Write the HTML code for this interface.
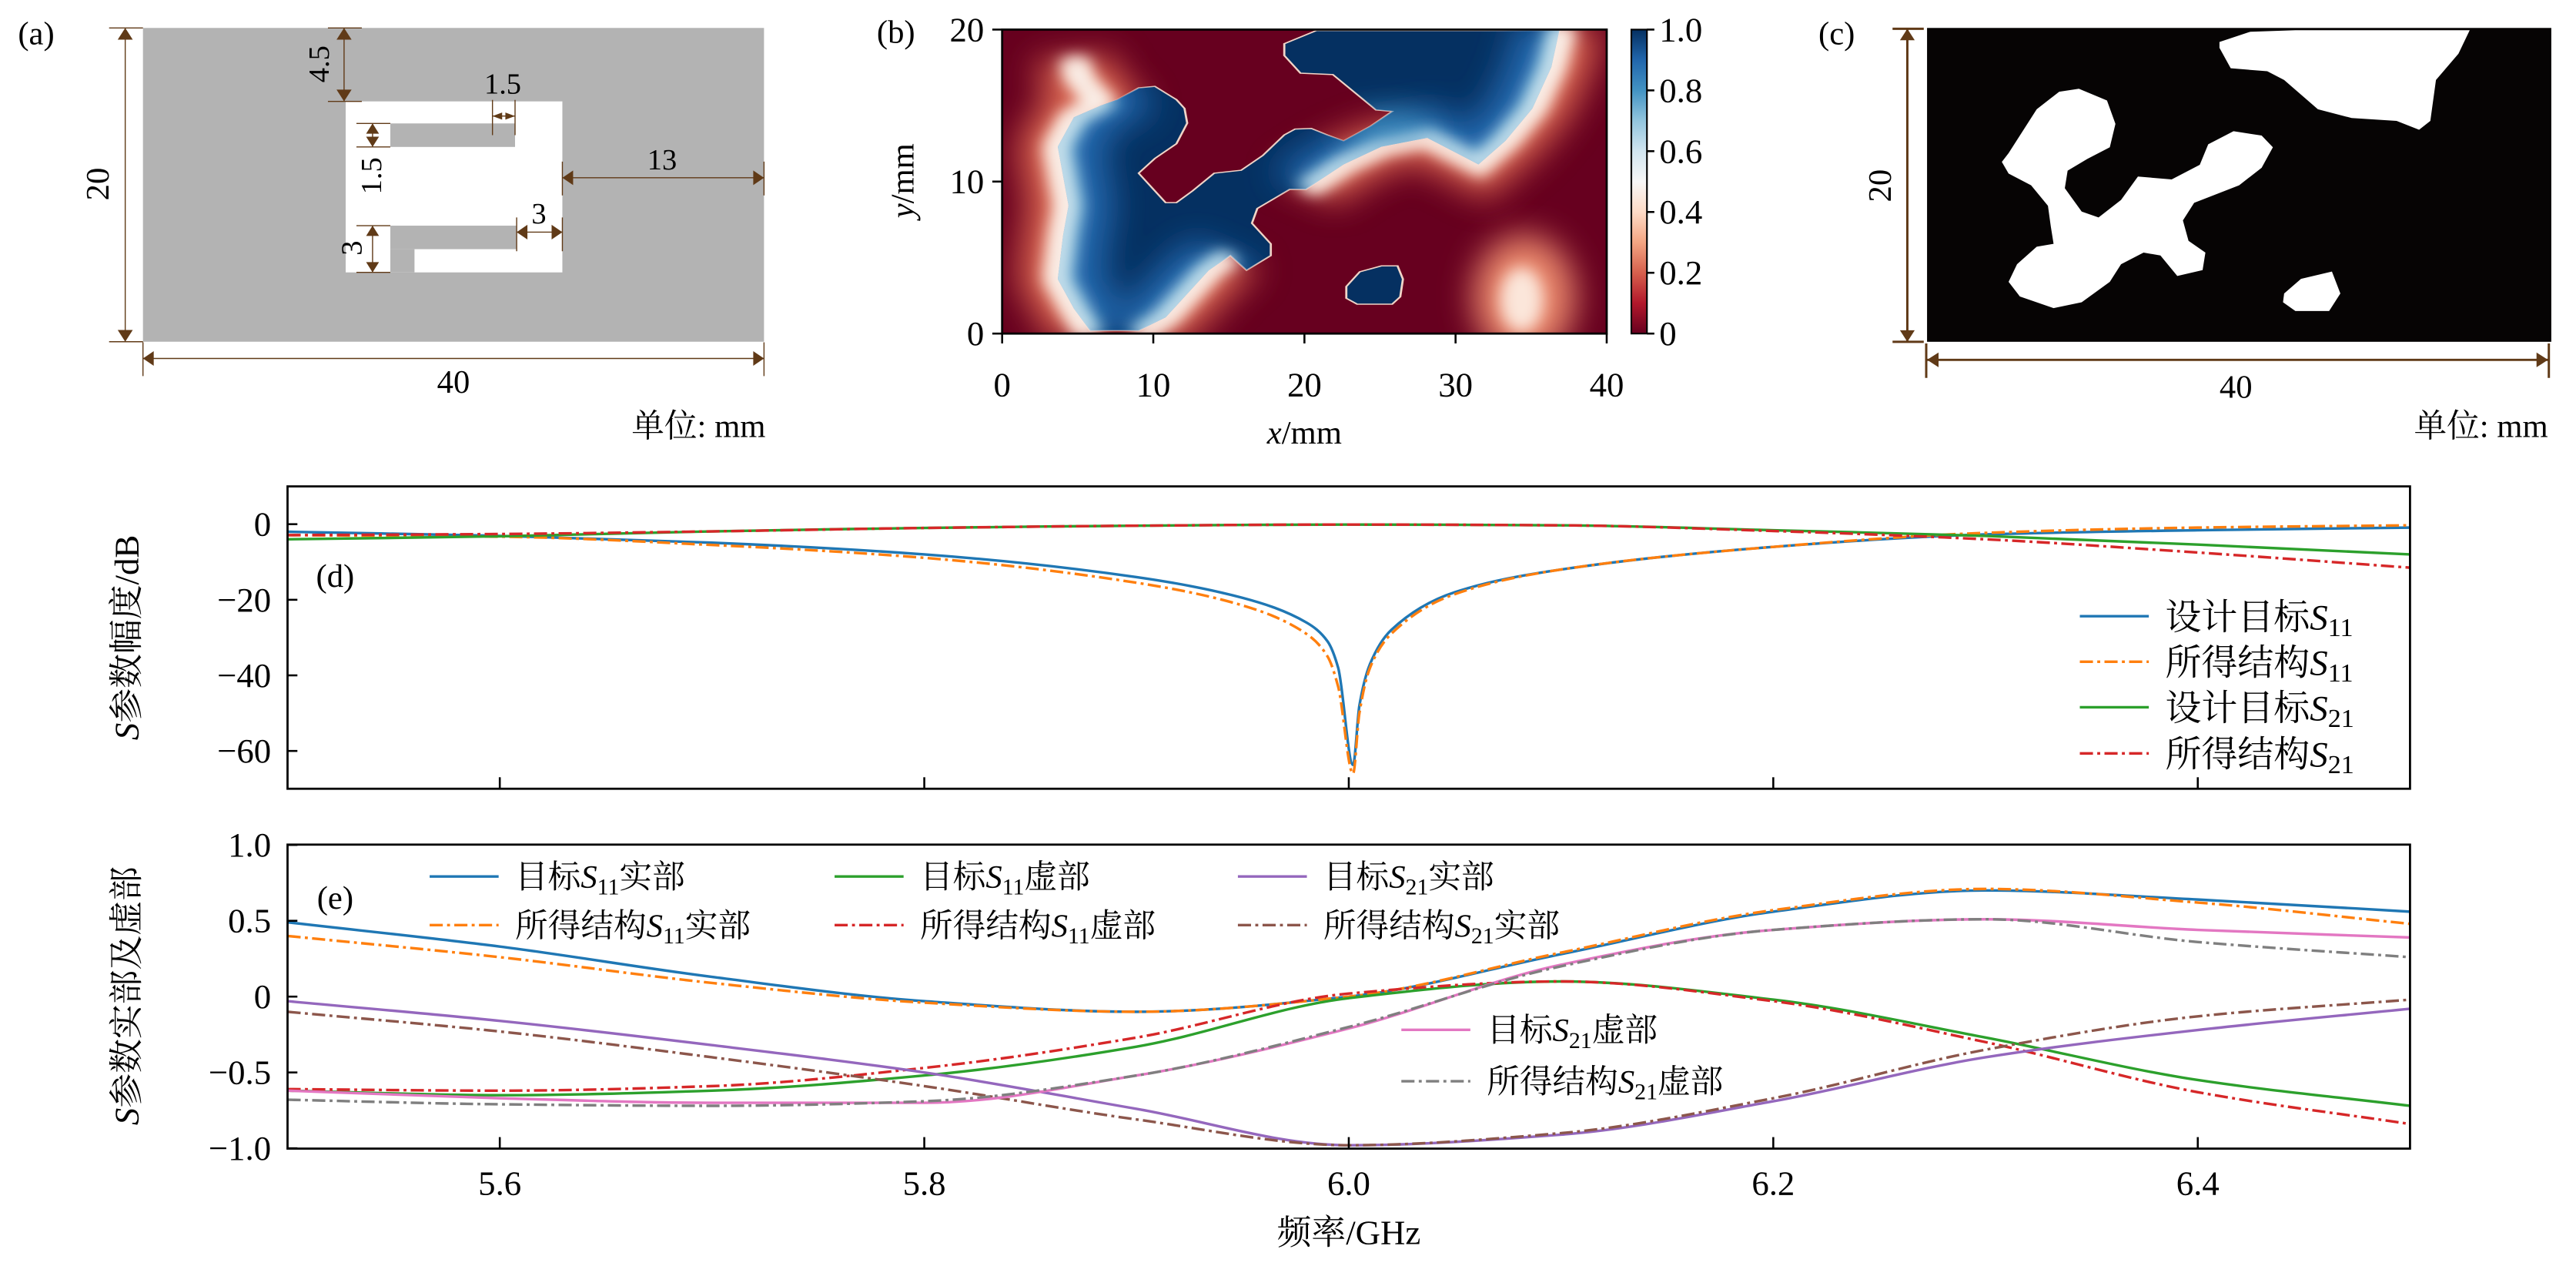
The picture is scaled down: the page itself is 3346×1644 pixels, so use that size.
<!DOCTYPE html>
<html><head><meta charset="utf-8"><style>
html,body{margin:0;padding:0;background:#fff;}
svg{display:block;font-family:"Liberation Serif","Noto Serif CJK SC",serif;}
</style></head><body>
<svg id="fig" width="3346" height="1644" viewBox="0 0 1568 770.44" xmlns="http://www.w3.org/2000/svg">
<defs>
<linearGradient id="rdbu" x1="0" y1="1" x2="0" y2="0">
<stop offset="0" stop-color="#67001f"/><stop offset="0.1" stop-color="#b2182b"/><stop offset="0.2" stop-color="#d6604d"/><stop offset="0.3" stop-color="#f4a582"/><stop offset="0.4" stop-color="#fddbc7"/><stop offset="0.5" stop-color="#f7f7f7"/><stop offset="0.6" stop-color="#d1e5f0"/><stop offset="0.7" stop-color="#92c5de"/><stop offset="0.8" stop-color="#4393c3"/><stop offset="0.9" stop-color="#2166ac"/><stop offset="1" stop-color="#053061"/>
</linearGradient>
<clipPath id="hmclip"><rect x="610" y="18" width="368" height="185"/></clipPath>
<filter id="blurA" filterUnits="userSpaceOnUse" x="-200" y="-200" width="2000" height="1600"><feGaussianBlur stdDeviation="30 55"/></filter>
<filter id="blurB" filterUnits="userSpaceOnUse" x="-200" y="-200" width="2000" height="1600"><feGaussianBlur stdDeviation="14 26"/></filter>
<path id="blueB" d="M380,1125 L470,1125 L520,1080 L600,920 L640,870 L670,920 L715,870 L715,830 L680,760 L690,710 L750,645 L780,645 L850,560 L920,500 L1005,470 L1100,560 L1150,480 L1200,370 L1235,230 L1250,105 L800,105 L740,150 L740,190 L770,250 L830,255 L860,300 L910,375 L940,380 L900,430 L850,480 L820,460 L790,438 L760,440 L740,460 L700,530 L660,580 L610,590 L570,650 L540,690 L520,690 L470,590 L500,540 L540,490 L560,420 L555,370 L540,340 L500,295 L470,300 L430,340 L400,360 L350,400 L320,500 L330,600 L340,700 L330,800 L320,950 L350,1050 Z"/>
<path id="softS" fill="none" d="M350,200 L360,270 L400,350 L350,400 L320,500 L330,600 L340,700 L330,800 L320,950 L350,1050 L380,1140 M470,1140 L520,1080 L600,920 L640,870 M780,645 L850,560 L920,500 L1005,470 L1100,560 L1150,480 L1200,370 L1235,230 L1255,90"/>
<clipPath id="inB"><use href="#blueB"/></clipPath>
<mask id="outB" maskUnits="userSpaceOnUse" x="0" y="0" width="1600" height="1300"><rect x="0" y="0" width="1600" height="1300" fill="#fff"/><use href="#blueB" fill="#000"/></mask>
</defs>

<!-- ============ PANEL (a) ============ -->
<g>
<text x="22" y="27" font-size="20" text-anchor="middle">(a)</text>
<g transform="translate(0.92,0.014) scale(0.3273,0.1788)">
<rect x="263" y="95" width="1155" height="1068" fill="#b3b3b3"/>
<rect x="640" y="345" width="403" height="582" fill="#fff"/>
<rect x="723" y="420" width="232" height="80" fill="#b3b3b3"/>
<rect x="723" y="768" width="235" height="80" fill="#b3b3b3"/>
<rect x="723" y="848" width="45" height="79" fill="#b3b3b3"/>
<g stroke="#603a17" stroke-width="1.4" fill="none">
<path vector-effect="non-scaling-stroke" d="M230,95 V1163 M200,95 H263 M200,1163 H263"/>
<path vector-effect="non-scaling-stroke" d="M637,95 V345 M607,95 H670 M607,345 H670"/>
<path vector-effect="non-scaling-stroke" d="M913,395 H955 M913,340 V460 M955,340 V460"/>
<path vector-effect="non-scaling-stroke" d="M690,420 V500 M660,420 H723 M660,500 H723"/>
<path vector-effect="non-scaling-stroke" d="M1043,605 H1418 M1043,550 V665 M1418,550 V665"/>
<path vector-effect="non-scaling-stroke" d="M958,790 H1043 M958,740 V855 M1043,740 V855"/>
<path vector-effect="non-scaling-stroke" d="M690,768 V927 M660,768 H723 M660,927 H723"/>
<path vector-effect="non-scaling-stroke" d="M263,1220 H1418 M263,1165 V1280 M1418,1165 V1280"/>
</g>
<g fill="#603a17">
<path d="M230,95 l-14,40 h28z M230,1163 l-14,-40 h28z M637,95 l-14,40 h28z M637,345 l-14,-40 h28z M690,420 l-12,35 h24z M690,500 l-12,-35 h24z M690,768 l-12,35 h24z M690,927 l-12,-35 h24z"/>
<path d="M913,395 l18,-12 v24z M955,395 l-18,-12 v24z M1043,605 l20,-25 v50z M1418,605 l-20,-25 v50z M958,790 l20,-25 v50z M1043,790 l-20,-25 v50z M263,1220 l20,-25 v50z M1418,1220 l-20,-25 v50z"/>
</g>
</g>
<g font-size="18" fill="#000">
<text transform="translate(66,112) rotate(-90)" text-anchor="middle" font-size="20">20</text>
<text transform="translate(200,39) rotate(-90)" text-anchor="middle">4.5</text>
<text x="306" y="57" text-anchor="middle">1.5</text>
<text transform="translate(232,107) rotate(-90)" text-anchor="middle">1.5</text>
<text x="403" y="103" text-anchor="middle">13</text>
<text x="328" y="136" text-anchor="middle">3</text>
<text transform="translate(220,151) rotate(-90)" text-anchor="middle">3</text>
<text x="276" y="239" text-anchor="middle" font-size="20">40</text>
<text x="466" y="266" text-anchor="end" font-size="20">单位: mm</text>
</g>
</g>

<!-- ============ PANEL (b) ============ -->
<g>
<text x="557" y="26" font-size="20" text-anchor="end">(b)</text>
<g clip-path="url(#hmclip)">
<rect x="610" y="18" width="368" height="185" fill="#67001f"/>
<g transform="translate(538.8,-0.27) scale(0.3283,0.1791)">
<g filter="url(#blurA)">
<ellipse cx="1185" cy="1010" rx="95" ry="210" fill="#e9866a"/>
</g>
<g filter="url(#blurB)">
<ellipse cx="1180" cy="1020" rx="40" ry="110" fill="#fbe6da"/>
</g>
<use href="#blueB" fill="#053061" stroke="#f2d5c8" stroke-width="4"/>
<g mask="url(#outB)">
<use href="#softS" stroke="#d6604d" stroke-width="150" filter="url(#blurA)"/>
<use href="#softS" stroke="#fbe3d6" stroke-width="60" filter="url(#blurB)"/>
</g>
<g clip-path="url(#inB)">
<use href="#softS" stroke="#2166ac" stroke-width="170" filter="url(#blurA)"/>
<use href="#softS" stroke="#92c5de" stroke-width="60" filter="url(#blurB)"/>
<ellipse cx="930" cy="440" rx="90" ry="50" fill="#4393c3" filter="url(#blurA)"/>
</g>
<use href="#softS" stroke="#f7f7f7" stroke-width="16" filter="url(#blurB)"/>
<path d="M855,975 L880,925 L920,905 L950,905 L960,950 L955,1010 L940,1035 L875,1035 L855,1015 Z" fill="#053061" stroke="#f2d5c8" stroke-width="4"/>
</g>
</g>
<rect x="610" y="18" width="368" height="185" fill="none" stroke="#000" stroke-width="1.3"/>
<g id="hmTicks" font-size="21"></g>
<rect x="993" y="18" width="9.5" height="185" fill="url(#rdbu)" stroke="#000" stroke-width="1"/>
<g id="cbTicks" font-size="21"></g>
<text x="794" y="270" text-anchor="middle" font-size="20"><tspan font-style="italic">x</tspan>/mm</text>
<text transform="translate(556,110) rotate(-90)" text-anchor="middle" font-size="20"><tspan font-style="italic">y</tspan>/mm</text>
</g>

<!-- ============ PANEL (c) ============ -->
<g>
<text x="1118" y="27" font-size="20" text-anchor="middle">(c)</text>
<rect x="1173" y="17" width="380" height="191" fill="#060404"/>
<g transform="translate(1030.95,0.62) scale(0.3423,0.178)" fill="#fff">
<path d="M935,140 L990,105 L1070,100 L1380,100 L1360,180 L1320,270 L1310,410 L1290,440 L1250,410 L1170,400 L1110,370 L1050,270 L1020,240 L955,230 L935,160 Z"/>
<path d="M560,520 L610,370 L650,310 L685,300 L735,340 L750,420 L740,500 L700,540 L665,580 L660,640 L690,720 L720,740 L760,680 L790,600 L850,610 L900,560 L915,490 L960,445 L1010,460 L1030,500 L1010,570 L970,630 L890,690 L870,750 L880,820 L910,860 L905,920 L860,940 L830,870 L800,860 L760,900 L740,960 L690,1030 L640,1050 L580,1010 L560,960 L575,900 L610,840 L640,830 L635,770 L630,700 L600,630 L560,590 L548,550 Z"/>
<path d="M1050,1000 L1080,950 L1135,925 L1150,1000 L1130,1060 L1070,1060 L1048,1030 Z"/>
</g>
<g stroke="#603a17" stroke-width="1.4" fill="none">
<path d="M1161,17.5 V208 M1152,17.5 H1171 M1152,208 H1171 M1173,219 H1551 M1172.5,209 V230 M1551.5,209 V230"/>
</g>
<g fill="#603a17"><path d="M1161,17.5 l-4.5,7 h9z M1161,208 l-4.5,-7 h9z M1173,219 l7,-4.5 v9z M1551,219 l-7,-4.5 v9z"/></g>
<text transform="translate(1151,113) rotate(-90)" text-anchor="middle" font-size="20">20</text>
<text x="1361" y="242" text-anchor="middle" font-size="20">40</text>
<text x="1551" y="266" text-anchor="end" font-size="20">单位: mm</text>
</g>

<!-- ============ PANEL (d) ============ -->
<g>
<g id="dSeries"></g>
<rect x="175" y="296" width="1292" height="184" fill="none" stroke="#000" stroke-width="1.3"/>
<g id="dTicks" font-size="21"></g>
<text x="204" y="357" font-size="20" text-anchor="middle">(d)</text>
<text transform="translate(84,388) rotate(-90)" text-anchor="middle" font-size="21"><tspan font-style="italic">S</tspan>参数幅度/dB</text>
<g id="dLegend" font-size="22"></g>
</g>

<!-- ============ PANEL (e) ============ -->
<g>
<g id="eSeries"></g>
<rect x="175" y="514" width="1292" height="185" fill="none" stroke="#000" stroke-width="1.3"/>
<g id="eTicks" font-size="21"></g>
<text x="204" y="553" font-size="20" text-anchor="middle">(e)</text>
<text transform="translate(84,606) rotate(-90)" text-anchor="middle" font-size="21"><tspan font-style="italic">S</tspan>参数实部及虚部</text>
<text x="821" y="757" text-anchor="middle" font-size="21">频率/GHz</text>
<g id="eLegend" font-size="20"></g>
</g>
</svg>

<script>
// ---------- data: panel (d) magnitude (dB) ----------
const dFreq = [5.5,5.6,5.7,5.8,5.9,5.95,5.98,5.99,5.995,6.002,6.005,6.01,6.02,6.05,6.1,6.2,6.3,6.4,6.5];
const dS11T = [-2.0,-3.1,-4.9,-8.0,-14,-19.5,-26,-31,-38,-63.7,-48,-37,-28,-18,-12,-6,-2.7,-1.6,-0.9];
const dS11O = [-2.9,-3.3,-5.5,-8.9,-15.5,-21.5,-29,-35,-43,-66,-50,-38,-29,-18.5,-12,-6,-2.3,-0.9,-0.3];
const dFreq21 = [5.5,5.6,5.7,5.8,5.9,6.0,6.1,6.2,6.3,6.4,6.5];
const dS21T = [-4.0,-3.2,-1.9,-1.0,-0.4,-0.1,-0.3,-1.6,-3.1,-5.4,-8.0];
const dS21O = [-2.9,-2.6,-1.9,-1.0,-0.4,-0.1,-0.3,-1.8,-4.0,-7.5,-11.5];
const dYTicks = [0,-20,-40,-60];
const dYTickLabels = ["0","\u221220","\u221240","\u221260"];
// ---------- data: panel (e) real / imaginary ----------
const eFreq = [5.5,5.6,5.7,5.8,5.9,6.0,6.1,6.2,6.3,6.4,6.5];
const eS11reT = [0.49,0.33,0.13,-0.03,-0.10,0.0,0.28,0.56,0.70,0.64,0.56];
const eS11reO = [0.40,0.26,0.09,-0.04,-0.10,0.0,0.29,0.57,0.71,0.62,0.48];
const eS11imT = [-0.62,-0.65,-0.62,-0.52,-0.33,-0.01,0.10,-0.02,-0.27,-0.55,-0.72];
const eS11imO = [-0.61,-0.62,-0.59,-0.47,-0.27,0.02,0.10,-0.03,-0.30,-0.63,-0.84];
const eS21reT = [-0.03,-0.16,-0.32,-0.50,-0.74,-0.98,-0.91,-0.69,-0.40,-0.22,-0.08];
const eS21reO = [-0.10,-0.23,-0.40,-0.59,-0.81,-0.98,-0.90,-0.67,-0.35,-0.13,-0.02];
const eS21imT = [-0.62,-0.67,-0.70,-0.70,-0.52,-0.21,0.21,0.44,0.51,0.44,0.39];
const eS21imO = [-0.68,-0.71,-0.72,-0.69,-0.52,-0.20,0.20,0.44,0.51,0.36,0.26];
const eYTicks = [1.0,0.5,0,-0.5,-1.0];
const eYTickLabels = ["1.0","0.5","0","\u22120.5","\u22121.0"];
const xTicks = [5.6,5.8,6.0,6.2,6.4];
const xTickLabels = ["5.6","5.8","6.0","6.2","6.4"];
// ---------- data: panel (b) ticks ----------
const hmXTicks = [0,10,20,30,40];
const hmYTicks = [0,10,20];
const cbTicks = [0,0.2,0.4,0.6,0.8,1.0];
const cbTickLabels = ["0","0.2","0.4","0.6","0.8","1.0"];

const NS = "http://www.w3.org/2000/svg";
function mk(tag, attrs, parent){const e=document.createElementNS(NS,tag);for(const k in attrs)e.setAttribute(k,attrs[k]);parent.appendChild(e);return e;}

const xS = f => 175 + (f-5.5)*1292;
const yD = v => 296 + (10-v)/80*184;
const yE = v => 606.5 - v*92.3;

function monoPath(xs, ys){
  const n=xs.length, px=xs.map(xS), py=ys;
  const d=[],m=new Array(n);
  for(let i=0;i<n-1;i++) d.push((py[i+1]-py[i])/(px[i+1]-px[i]));
  m[0]=d[0]; m[n-1]=d[n-2];
  for(let i=1;i<n-1;i++){ if(d[i-1]*d[i]<=0) m[i]=0; else { const w1=2*(px[i+1]-px[i])+(px[i]-px[i-1]), w2=(px[i+1]-px[i])+2*(px[i]-px[i-1]); m[i]=(w1+w2)/(w1/d[i-1]+w2/d[i]); } }
  let s="M"+px[0].toFixed(2)+","+py[0].toFixed(2);
  for(let i=0;i<n-1;i++){const h=px[i+1]-px[i];
    s+=" C"+(px[i]+h/3).toFixed(2)+","+(py[i]+m[i]*h/3).toFixed(2)+" "+(px[i+1]-h/3).toFixed(2)+","+(py[i+1]-m[i+1]*h/3).toFixed(2)+" "+px[i+1].toFixed(2)+","+py[i+1].toFixed(2);}
  return s;
}
const DASH = "8 2.6 1.8 2.6";

const dG=document.getElementById('dSeries');
const dDefs=[
 {f:dFreq,v:dS11T,c:"#1f77b4",dash:null,name:"target-s11-line",lab:"设计目标",sub:"11"},
 {f:dFreq,v:dS11O,c:"#ff7f0e",dash:DASH,name:"obtained-s11-line",lab:"所得结构",sub:"11"},
 {f:dFreq21,v:dS21T,c:"#2ca02c",dash:null,name:"target-s21-line",lab:"设计目标",sub:"21"},
 {f:dFreq21,v:dS21O,c:"#d62728",dash:DASH,name:"obtained-s21-line",lab:"所得结构",sub:"21"}];
dDefs.forEach(s=>{
  const p=mk('path',{d:monoPath(s.f,s.v.map(yD)),fill:"none",stroke:s.c,"stroke-width":1.6},dG);
  if(s.dash)p.setAttribute('stroke-dasharray',s.dash);
  
  
});
const dT=document.getElementById('dTicks');
dYTicks.forEach((t,i)=>{const y=yD(t);
  const l=mk('line',{x1:175,x2:181,y1:y,y2:y,stroke:"#000","stroke-width":1.2},dT);
  
  
  const tx=mk('text',{x:165,y:y+7,"text-anchor":"end"},dT); tx.textContent=dYTickLabels[i];
  
  
});
xTicks.forEach(t=>{const x=xS(t);
  const l=mk('line',{x1:x,x2:x,y1:480,y2:473,stroke:"#000","stroke-width":1.2},dT);
  
  
});
const dL=document.getElementById('dLegend');
const dLegY=[375,402.7,430.4,458.5];
dDefs.forEach((s,i)=>{const y=dLegY[i];
  const g=mk('g',{},dL);
  
  
  const l=mk('line',{x1:1266,x2:1308,y1:y,y2:y,stroke:s.c,"stroke-width":1.6},g);
  if(s.dash)l.setAttribute('stroke-dasharray',s.dash);
  const t=mk('text',{x:1318,y:y+8},g);
  t.innerHTML=s.lab+'<tspan font-style="italic">S</tspan><tspan font-size="16" dy="4">'+s.sub+'</tspan>';
});

const eG=document.getElementById('eSeries');
const eDefs=[
 {v:eS11reT,c:"#1f77b4",dash:null,name:"target-s11-real",lab:"目标",sub:"11",suf:"实部"},
 {v:eS11reO,c:"#ff7f0e",dash:DASH,name:"obtained-s11-real",lab:"所得结构",sub:"11",suf:"实部"},
 {v:eS11imT,c:"#2ca02c",dash:null,name:"target-s11-imag",lab:"目标",sub:"11",suf:"虚部"},
 {v:eS11imO,c:"#d62728",dash:DASH,name:"obtained-s11-imag",lab:"所得结构",sub:"11",suf:"虚部"},
 {v:eS21reT,c:"#9467bd",dash:null,name:"target-s21-real",lab:"目标",sub:"21",suf:"实部"},
 {v:eS21reO,c:"#8c564b",dash:DASH,name:"obtained-s21-real",lab:"所得结构",sub:"21",suf:"实部"},
 {v:eS21imT,c:"#e377c2",dash:null,name:"target-s21-imag",lab:"目标",sub:"21",suf:"虚部"},
 {v:eS21imO,c:"#7f7f7f",dash:DASH,name:"obtained-s21-imag",lab:"所得结构",sub:"21",suf:"虚部"}];
eDefs.forEach(s=>{
  const p=mk('path',{d:monoPath(eFreq,s.v.map(yE)),fill:"none",stroke:s.c,"stroke-width":1.6},eG);
  if(s.dash)p.setAttribute('stroke-dasharray',s.dash);
  
  
});
const eT=document.getElementById('eTicks');
eYTicks.forEach((t,i)=>{const y=yE(t);
  const l=mk('line',{x1:175,x2:181,y1:y,y2:y,stroke:"#000","stroke-width":1.2},eT);
  
  
  const tx=mk('text',{x:165,y:y+7,"text-anchor":"end"},eT); tx.textContent=eYTickLabels[i];
  
  
});
xTicks.forEach((t,i)=>{const x=xS(t);
  const l=mk('line',{x1:x,x2:x,y1:699,y2:692,stroke:"#000","stroke-width":1.2},eT);
  
  
  const tx=mk('text',{x:x,y:727,"text-anchor":"middle"},eT); tx.textContent=xTickLabels[i];
  
  
});
const eL=document.getElementById('eLegend');
const ePos=[[261.5,533.4],[261.5,563],[508,533.4],[508,563],[753.5,533.4],[753.5,563],[853,626.7],[853,658]];
const eOrder=[0,1,2,3,4,5,6,7];
eOrder.forEach((k,i)=>{const s=eDefs[k],x=ePos[i][0],y=ePos[i][1];
  const g=mk('g',{},eL);
  
  
  const l=mk('line',{x1:x,x2:x+42,y1:y,y2:y,stroke:s.c,"stroke-width":1.6},g);
  if(s.dash)l.setAttribute('stroke-dasharray',s.dash);
  const t=mk('text',{x:x+52,y:y+7},g);
  t.innerHTML=s.lab+'<tspan font-style="italic">S</tspan><tspan font-size="14" dy="4">'+s.sub+'</tspan><tspan dy="-4">'+s.suf+'</tspan>';
});

const hT=document.getElementById('hmTicks');
const hx=v=>610+v/40*368, hy=v=>203-v/20*185;
hmXTicks.forEach(t=>{const x=hx(t);
  const l=mk('line',{x1:x,x2:x,y1:203,y2:209,stroke:"#000","stroke-width":1.2},hT);
  
  
  const tx=mk('text',{x:x,y:241,"text-anchor":"middle"},hT); tx.textContent=String(t);
  
  
});
hmYTicks.forEach(t=>{const y=hy(t);
  const l=mk('line',{x1:604,x2:610,y1:y,y2:y,stroke:"#000","stroke-width":1.2},hT);
  
  
  const tx=mk('text',{x:599,y:y+7,"text-anchor":"end"},hT); tx.textContent=String(t);
  
  
});
const cT=document.getElementById('cbTicks');
cbTicks.forEach((t,i)=>{const y=203-t*185;
  const l=mk('line',{x1:1002.5,x2:1007,y1:y,y2:y,stroke:"#000","stroke-width":1.2},cT);
  
  
  const tx=mk('text',{x:1010,y:y+7},cT); tx.textContent=cbTickLabels[i];
  
  
});
</script>
</body></html>
